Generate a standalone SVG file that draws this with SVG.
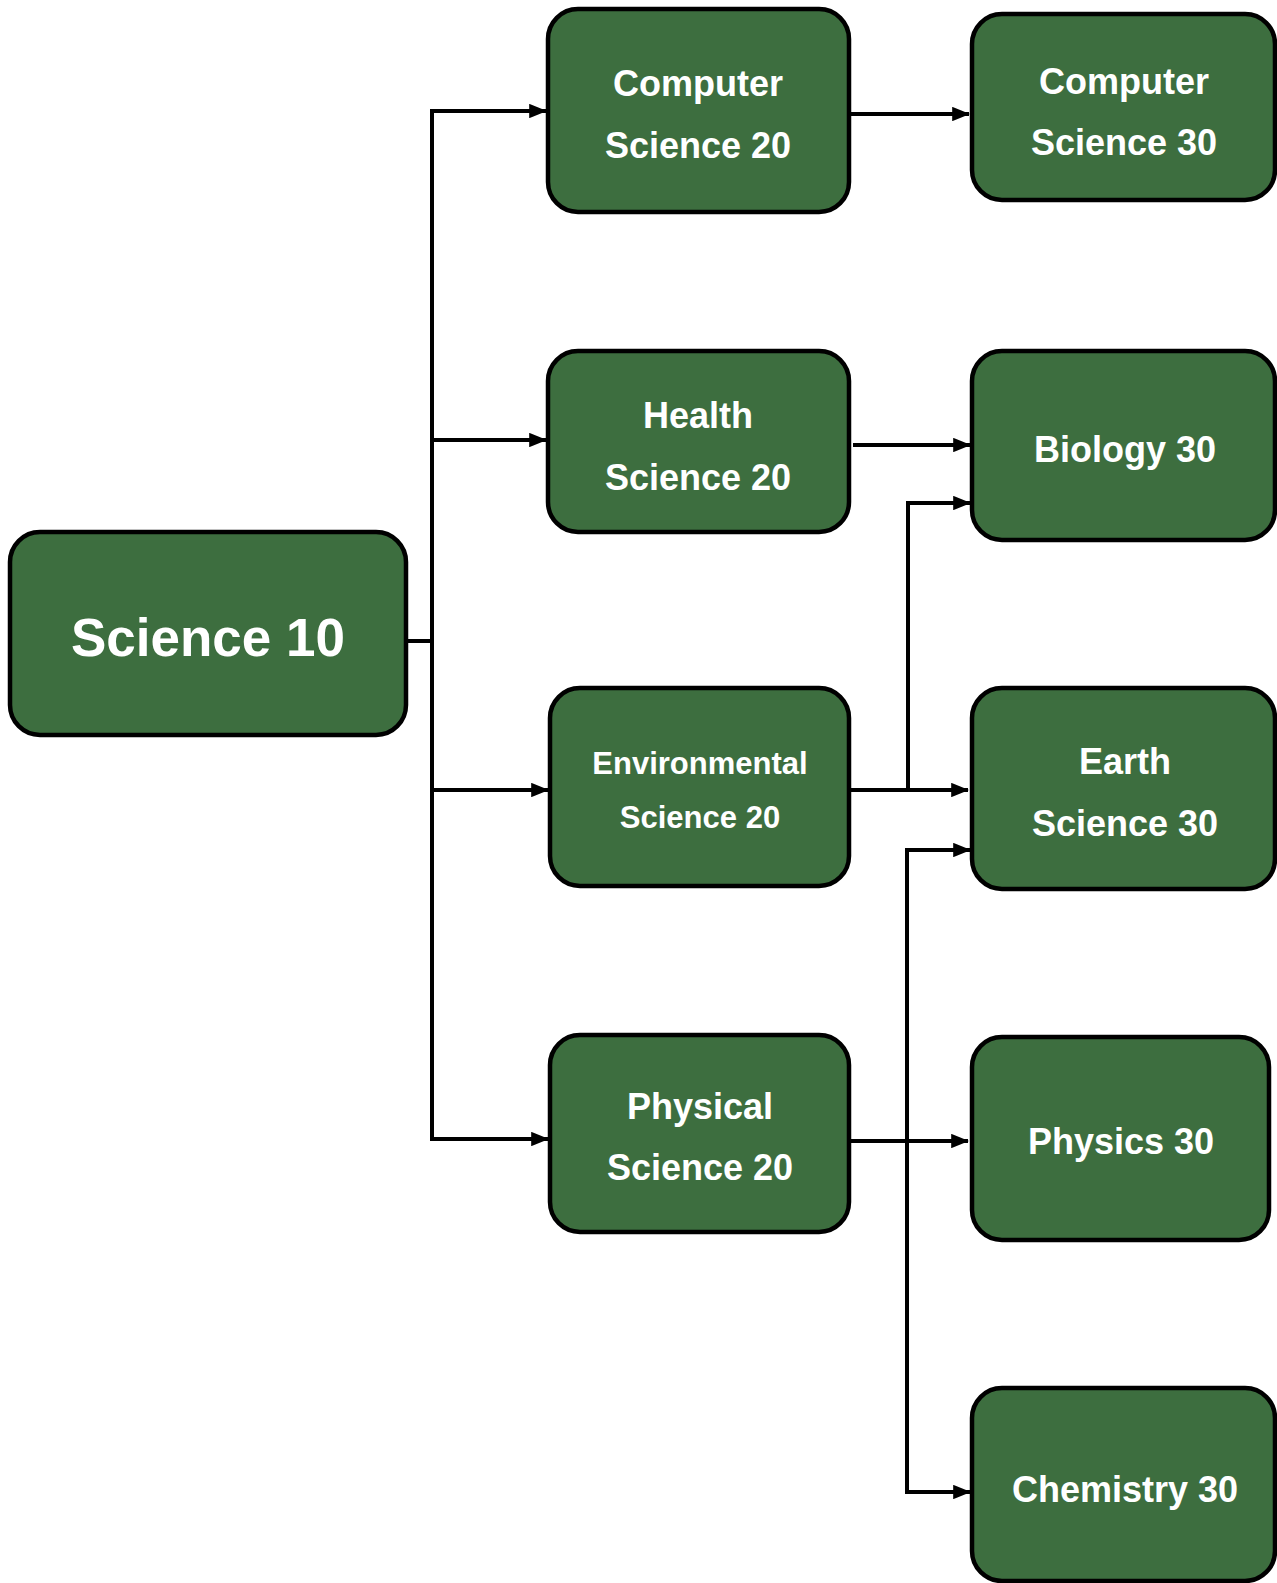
<svg xmlns="http://www.w3.org/2000/svg" width="1277" height="1583" viewBox="0 0 1277 1583">
<style>
.node{fill:#3d6e3f;stroke:#000;stroke-width:4.5}
.t{fill:#fff;font-family:"Liberation Sans",Arial,sans-serif;font-weight:bold;text-anchor:middle}
.m{font-size:36px}
.s{font-size:31px}
.l{font-size:53px}
.c{fill:none;stroke:#000;stroke-width:4}
</style>
<defs>
<marker id="ah" markerWidth="4.5" markerHeight="3.6" refX="4.2" refY="1.8" orient="auto" markerUnits="strokeWidth">
<path d="M0,0 L4.5,1.8 L0,3.6 Z" fill="#000"/>
</marker>
</defs>
<rect width="1277" height="1583" fill="#fff"/>
<g id="connectors">
<path class="c" d="M406,641 H432"/>
<path class="c" d="M432,109 V1141"/>
<path class="c" d="M430,111 H546" marker-end="url(#ah)"/>
<path class="c" d="M432,440 H546" marker-end="url(#ah)"/>
<path class="c" d="M432,790 H548" marker-end="url(#ah)"/>
<path class="c" d="M430,1139 H548" marker-end="url(#ah)"/>
<path class="c" d="M849,114 H969" marker-end="url(#ah)"/>
<path class="c" d="M853,445 H970" marker-end="url(#ah)"/>
<path class="c" d="M849,790 H968" marker-end="url(#ah)"/>
<path class="c" d="M908,790 V503 H970" marker-end="url(#ah)"/>
<path class="c" d="M907,1492 V850 H970" marker-end="url(#ah)"/>
<path class="c" d="M905,1492 H970" marker-end="url(#ah)"/>
<path class="c" d="M849,1141 H968" marker-end="url(#ah)"/>
</g>
<g id="science10">
<rect class="node" x="10" y="532" width="396" height="203" rx="30"/>
<text class="t l" x="208" y="656">Science 10</text>
</g>
<g id="cs20">
<rect class="node" x="548" y="9" width="301" height="203" rx="30"/>
<text class="t m" x="698" y="96">Computer</text>
<text class="t m" x="698" y="158">Science 20</text>
</g>
<g id="cs30">
<rect class="node" x="972" y="14" width="303" height="186" rx="30"/>
<text class="t m" x="1124" y="94">Computer</text>
<text class="t m" x="1124" y="155">Science 30</text>
</g>
<g id="health20">
<rect class="node" x="548" y="351" width="301" height="181" rx="30"/>
<text class="t m" x="698" y="428">Health</text>
<text class="t m" x="698" y="490">Science 20</text>
</g>
<g id="biology30">
<rect class="node" x="972" y="351" width="303" height="189" rx="30"/>
<text class="t m" x="1125" y="462">Biology 30</text>
</g>
<g id="env20">
<rect class="node" x="550" y="688" width="299" height="198" rx="30"/>
<text class="t s" x="700" y="774">Environmental</text>
<text class="t s" x="700" y="828">Science 20</text>
</g>
<g id="earth30">
<rect class="node" x="972" y="688" width="303" height="201" rx="30"/>
<text class="t m" x="1125" y="774">Earth</text>
<text class="t m" x="1125" y="836">Science 30</text>
</g>
<g id="phys20">
<rect class="node" x="550" y="1035" width="299" height="197" rx="30"/>
<text class="t m" x="700" y="1119">Physical</text>
<text class="t m" x="700" y="1180">Science 20</text>
</g>
<g id="physics30">
<rect class="node" x="972" y="1037" width="297" height="203" rx="30"/>
<text class="t m" x="1121" y="1154">Physics 30</text>
</g>
<g id="chem30">
<rect class="node" x="972" y="1388" width="303" height="193" rx="30"/>
<text class="t m" x="1125" y="1502">Chemistry 30</text>
</g>
</svg>
